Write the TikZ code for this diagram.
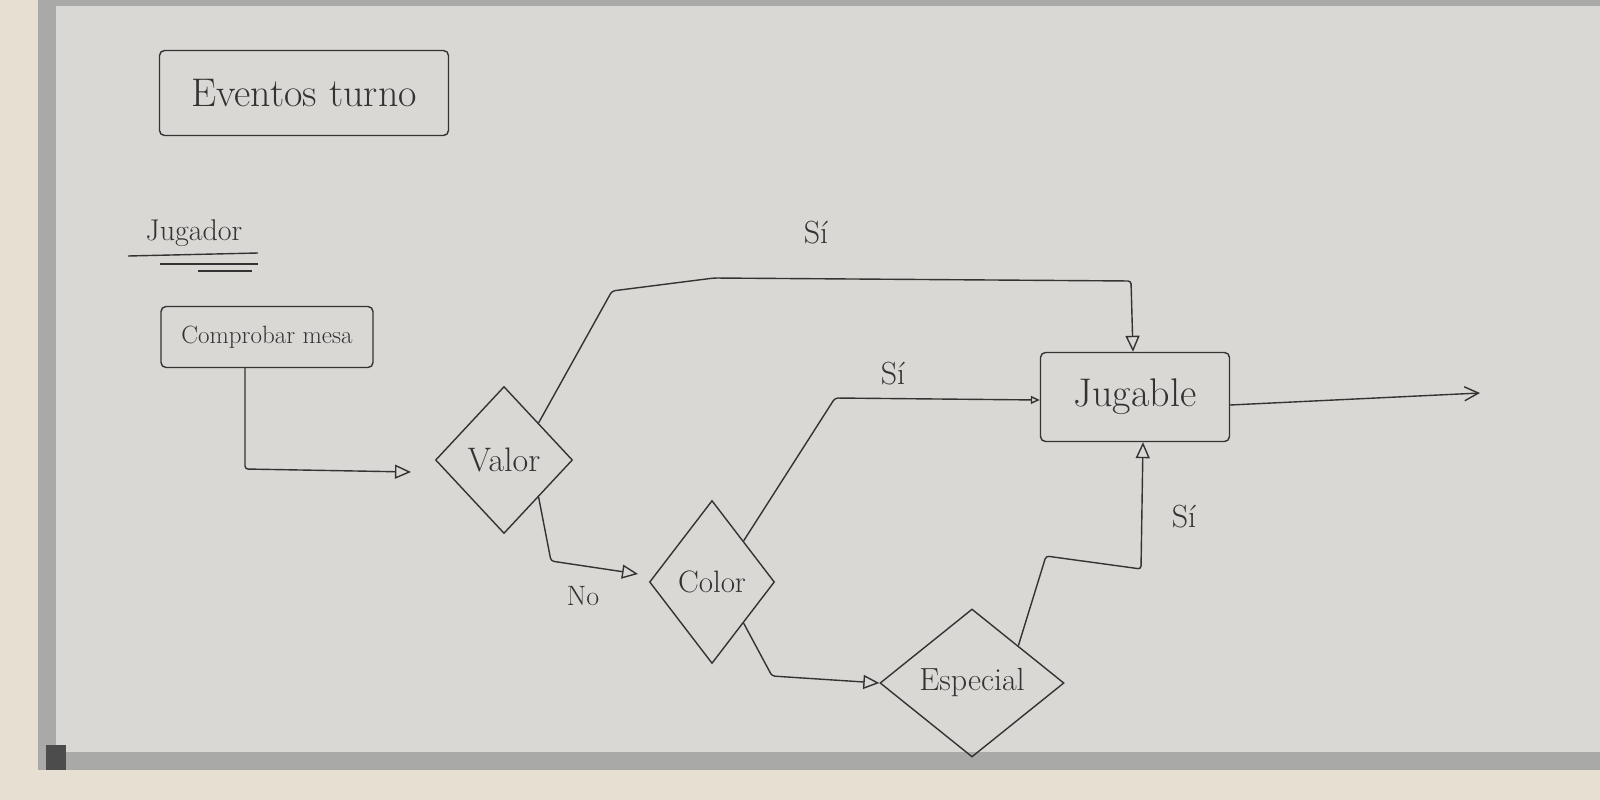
\documentclass[tikz,border=0pt]{standalone}
\usetikzlibrary{shapes.geometric,arrows.meta}
\definecolor{board}{HTML}{DAD8D5}
\definecolor{wall}{HTML}{E6DFD2}
\definecolor{frame}{HTML}{A9A9A7}
\definecolor{ink}{HTML}{333333}
\tikzset{
  ink/.style={draw=ink, line width=1.4pt},
  box/.style={ink, rounded corners=5pt, inner sep=0pt, text=ink, font=\fontsize{40}{42}\selectfont},
  dia/.style={ink, diamond, inner sep=0pt, text=ink},
  conn/.style={ink, rounded corners=3pt, -{Triangle[open, length=16pt, width=14pt]}},
  lbl/.style={text=ink, font=\fontsize{32}{34}\selectfont}
}
\begin{document}
\begin{tikzpicture}[x=1pt,y=-1pt]
\useasboundingbox (0,0) rectangle (1600,800);
% wall and board
\fill[wall] (0,0) rectangle (1600,800);
\fill[frame] (38,0) rectangle (1600,770);
\fill[board] (56,6) rectangle (1600,752);
\fill[black!70] (46,745) rectangle (66,770);
% title
\node[box, minimum width=289pt, minimum height=85pt] (title) at (304,93) {Eventos turno};
% Jugador
\node[lbl, font=\fontsize{30}{32}\selectfont] (jug0) at (194,233) {Jugador};
\draw[ink] (128,256) -- (258,253);
\draw[ink] (160,264) -- (258,264);
\draw[ink] (198,271) -- (252,271);
% comprobar mesa
\node[box, minimum width=212pt, minimum height=61pt, font=\fontsize{25}{27}\selectfont] (comp) at (267,337) {Comprobar mesa};
% diamonds
\node[dia, minimum width=137pt, minimum height=147pt, aspect=0.93, font=\fontsize{34}{36}\selectfont] (valor) at (504,460) {Valor};
\node[dia, minimum width=125pt, minimum height=163pt, aspect=0.77, font=\fontsize{31}{33}\selectfont] (color) at (712,582) {Color};
\node[dia, minimum width=184pt, minimum height=148pt, aspect=1.24, font=\fontsize{32}{34}\selectfont] (esp) at (972,683) {Especial};
% jugable
\node[box, minimum width=189pt, minimum height=89pt] (jug) at (1135,397) {Jugable};
% connectors
\coordinate (c1) at (245,469);
\draw[conn] (comp.south -| 245,0) -- (c1) -- (411,472);
\draw[conn] (valor.north east) -- (612,291) -- (714,278) -- (1131,281) -- (jug.north -| 1133,0);
\node[lbl] (si1) at (816,233) {Sí};
\draw[conn] (valor.south east) -- (551,561) -- (638,574);
\node[lbl, font=\fontsize{28}{30}\selectfont] (no) at (583,596) {No};
\draw[conn, -{Triangle[open, length=9pt, width=8pt]}] (color.north east) -- (835,398) -- (jug.west |- 0,400);
\node[lbl] (si2) at (893,374) {Sí};
\draw[conn] (color.south east) -- (772,676) -- (esp.west);
\draw[conn] (esp.north east) -- (1046,556) -- (1141,569) -- (jug.south -| 1143,0);
\node[lbl] (si3) at (1184,517) {Sí};
\coordinate (out) at (1480,393);
\draw[conn, -{Straight Barb[length=14pt, width=14pt]}] (jug.east |- 0,405) -- (out);
\end{tikzpicture}
\end{document}
